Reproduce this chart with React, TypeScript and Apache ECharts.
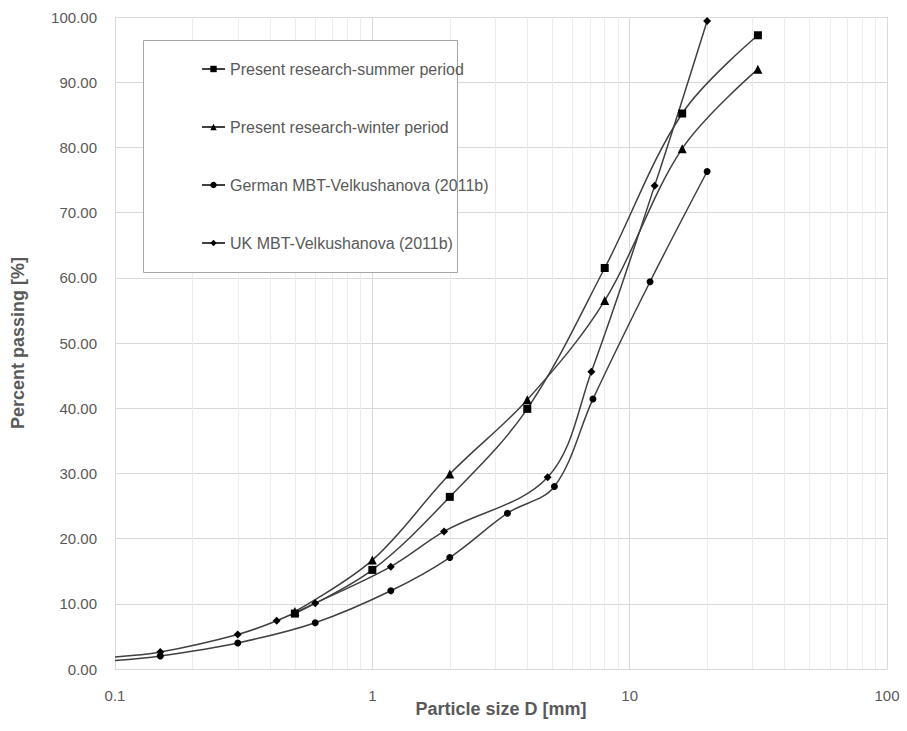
import React, { useEffect, useRef } from "react";
import * as echarts from "echarts";

// Particle size D [mm] and percent passing [%]
const summerD = [0.5, 1, 2, 4, 8, 16, 31.5];
const summerP = [8.5, 15.2, 26.4, 39.9, 61.5, 85.2, 97.2];
const winterD = [0.5, 1, 2, 4, 8, 16, 31.5];
const winterP = [8.8, 16.7, 29.9, 41.3, 56.5, 79.8, 92.0];
const germanD = [0.1, 0.15, 0.3, 0.6, 1.18, 2, 3.35, 5.1, 7.2, 12, 20];
const germanP = [1.3, 2.0, 4.0, 7.1, 12.0, 17.1, 23.9, 28.0, 41.4, 59.4, 76.3];
const ukD = [0.1, 0.15, 0.3, 0.425, 0.6, 1.18, 1.9, 4.8, 7.1, 12.5, 20];
const ukP = [1.85, 2.6, 5.3, 7.4, 10.1, 15.7, 21.1, 29.4, 45.6, 74.1, 99.4];

const seriesNames = [
  "Present research-summer period",
  "Present research-winter period",
  "German MBT-Velkushanova (2011b)",
  "UK MBT-Velkushanova (2011b)",
];
const minorGrid = [0.2, 0.3, 0.4, 0.5, 0.6, 0.7, 0.8, 0.9, 2, 3, 4, 5, 6, 7, 8, 9, 20, 30, 40, 50, 60, 70, 80, 90];

const FONT = "'Liberation Sans', 'DejaVu Sans', sans-serif";
const TXT = "#595959";

function pts(d: number[], p: number[]) {
  return d.map((x, i) => (x <= 0.1 ? { value: [x, p[i]], symbol: "none" } : { value: [x, p[i]] }));
}

export default function App() {
  const ref = useRef<HTMLDivElement>(null);
  useEffect(() => {
    if (!ref.current) return;
    const chart = echarts.init(ref.current, null, { renderer: "svg" });
    const lineStyle = { color: "#404040", width: 1.5 };
    const itemStyle = { color: "#000000" };
    const mk = (name: string, data: any[], symbol: string, size: number) => ({
      name,
      type: "line",
      data,
      symbol,
      symbolSize: size,
      smooth: 0.35,
      lineStyle,
      itemStyle,
      z: 3,
      clip: true,
    });
    chart.setOption({
      animation: false,
      backgroundColor: "#ffffff",
      grid: { left: 115, right: 20, top: 17, bottom: 62, containLabel: false },
      xAxis: {
        type: "log",
        logBase: 10,
        min: 0.1,
        max: 100,
        name: "Particle size D [mm]",
        nameLocation: "middle",
        nameGap: 31,
        nameMoveOverlap: false,
        nameTextStyle: { fontFamily: FONT, fontSize: 18, fontWeight: "bold", color: TXT },
        axisLine: { show: true, lineStyle: { color: "#d9d9d9" } },
        axisTick: { show: false },
        axisLabel: {
          fontFamily: FONT,
          fontSize: 15,
          color: TXT,
          margin: 19,
          formatter: (v: number) => String(+v.toPrecision(3)),
        },
        splitLine: { show: true, lineStyle: { color: "#d9d9d9", width: 1 } },
      },
      yAxis: {
        type: "value",
        min: 0,
        max: 100,
        interval: 10,
        name: "Percent passing [%]",
        nameLocation: "middle",
        nameGap: 88,
        nameMoveOverlap: false,
        nameTextStyle: { fontFamily: FONT, fontSize: 18, fontWeight: "bold", color: TXT },
        axisLine: { show: true, lineStyle: { color: "#d9d9d9" } },
        axisTick: { show: false },
        axisLabel: {
          fontFamily: FONT,
          fontSize: 15,
          color: TXT,
          margin: 18,
          formatter: (v: number) => v.toFixed(2),
        },
        splitLine: { show: true, lineStyle: { color: "#d9d9d9", width: 1 } },
      },
      legend: {
        data: seriesNames,
        orient: "vertical",
        left: 196,
        top: 56,
        itemWidth: 23,
        itemHeight: 8,
        itemGap: 42,
        z: 6,
        textStyle: { fontFamily: FONT, fontSize: 16, lineHeight: 16, color: TXT },
      },
      graphic: [
        {
          type: "rect",
          left: 143,
          top: 40,
          shape: { width: 314, height: 232 },
          style: { fill: "#ffffff", stroke: "#a6a6a6", lineWidth: 1 },
          z: 2,
          silent: true,
        },
      ],
      series: [
        {
          name: "grid-minor",
          type: "line",
          data: [],
          z: 1,
          silent: true,
          markLine: {
            silent: true,
            z: 1,
            symbol: ["none", "none"],
            label: { show: false },
            lineStyle: { color: "#ececec", width: 1, type: "solid" },
            data: minorGrid.map((v) => ({ xAxis: v })),
          },
        },
        mk(seriesNames[0], pts(summerD, summerP), "rect", 8),
        mk(seriesNames[1], pts(winterD, winterP), "triangle", 9),
        mk(seriesNames[2], pts(germanD, germanP), "circle", 7),
        mk(seriesNames[3], pts(ukD, ukP), "diamond", 8),
      ],
    });
    return () => chart.dispose();
  }, []);
  return <div ref={ref} style={{ width: 907, height: 731, position: "absolute", left: 0, top: 0 }} />;
}
